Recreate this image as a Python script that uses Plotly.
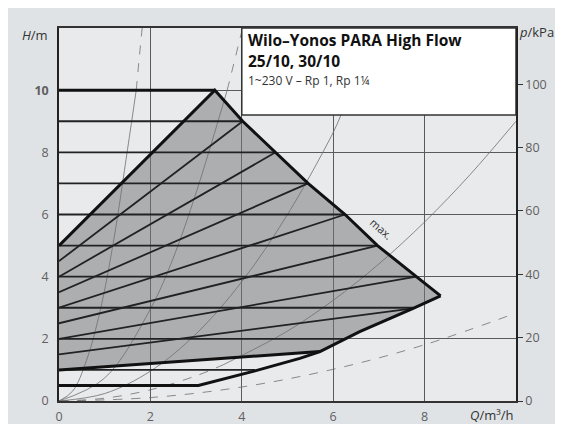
import plotly.graph_objects as go

# max. curve (outer boundary of the operating field)
q_max = [0, 3.41, 4.02, 4.74, 5.45, 6.26, 6.97, 7.82, 8.35]
h_max = [5.0, 10.0, 9.0, 8.0, 7.0, 6.0, 5.0, 4.0, 3.38]

# lower envelope (min. curve)
q_min = [0, 3.05, 4.29, 5.27, 5.71, 6.58, 7.75, 8.35]
h_min = [0.5, 0.5, 0.97, 1.37, 1.59, 2.23, 2.98, 3.38]

# thick lower Δp-v line
q_low = [0, 5.71]
h_low = [1.0, 1.59]

# Δp-c lines (constant head) and where they end on the boundary
dpc_h = [1, 2, 3, 4, 5, 6, 7, 8, 9]
dpc_q_end = [4.29, 6.27, 7.75, 7.82, 6.97, 6.26, 5.45, 4.74, 4.02]

# Δp-v lines: start head at Q=0, end point on the boundary
dpv_h0 = [1.5, 2.0, 2.5, 3.0, 3.5, 4.0, 4.5]
dpv_q_end = [7.75, 7.82, 6.97, 6.26, 5.45, 4.74, 4.02]
dpv_h_end = [2.98, 4.0, 5.0, 6.0, 7.0, 8.0, 9.0]

# system curves (thin)
sys_a_q = [0, 0.3, 0.6, 0.9, 1.2, 1.5, 1.69]
sys_a_h = [0, 0.32, 1.3, 2.9, 5.2, 8.1, 10.0]
sys_a_dq = [1.69, 1.76, 1.82]
sys_a_dh = [10.0, 11.1, 12.0]
sys_b_q = [0, 1.0, 2.0, 2.5, 3.0, 3.5, 3.68]
sys_b_h = [0, 0.74, 2.96, 4.6, 6.7, 9.1, 10.0]
sys_b_dq = [3.68, 3.85, 4.0]
sys_b_dh = [10.0, 11.0, 11.9]
sys_c_q = [0, 1.0, 2.0, 3.0, 4.0, 5.0, 6.0, 6.17]
sys_c_h = [0, 0.24, 0.96, 2.16, 3.84, 6.0, 8.64, 9.2]
sys_d_dq = [0, 1.0, 2.0, 3.0, 3.6]
sys_d_dh = [0, 0.09, 0.36, 0.81, 1.17]
sys_d_q = [3.6, 5.0, 6.0, 7.0, 8.0, 9.0, 10.0]
sys_d_h = [1.17, 2.25, 3.24, 4.41, 5.76, 7.29, 9.0]
sys_e_q = [0, 2.0, 4.0, 6.0, 8.0, 10.0]
sys_e_h = [0, 0.11, 0.45, 1.02, 1.81, 2.83]

x_ticks = [0, 2, 4, 6, 8]
y_ticks = [0, 2, 4, 6, 8, 10]
p_ticks = [0, 20, 40, 60, 80, 100]

FONT = "Open Sans"
DARK = "#222222"

fig = go.Figure()

# shaded operating field
poly_q = q_max + q_min[::-1][1:4] + [q_low[0]]
poly_h = h_max + h_min[::-1][1:4] + [h_low[0]]
fig.add_trace(go.Scatter(
    x=poly_q, y=poly_h, fill='toself', mode='lines',
    fillcolor='rgba(118,119,121,0.52)', line=dict(width=0),
    hoverinfo='skip'))

# system curves
thin = dict(color='#6e6e6e', width=0.8)
dash = dict(color='#6e6e6e', width=0.8, dash='dash')
for xs, ys, ln in [(sys_a_q, sys_a_h, thin), (sys_a_dq, sys_a_dh, dash),
                   (sys_b_q, sys_b_h, thin), (sys_b_dq, sys_b_dh, dash),
                   (sys_c_q, sys_c_h, thin),
                   (sys_d_dq, sys_d_dh, dash), (sys_d_q, sys_d_h, thin),
                   (sys_e_q, sys_e_h, dash)]:
    fig.add_trace(go.Scatter(x=xs, y=ys, mode='lines', line=ln,
                             line_shape='spline', hoverinfo='skip'))

# Δp-c lines
hx, hy = [], []
for h, qe in zip(dpc_h, dpc_q_end):
    hx += [0, qe, None]
    hy += [h, h, None]
fig.add_trace(go.Scatter(x=hx, y=hy, mode='lines',
                         line=dict(color=DARK, width=1.8), hoverinfo='skip'))

# Δp-v lines
vx, vy = [], []
for h0, qe, he in zip(dpv_h0, dpv_q_end, dpv_h_end):
    vx += [0, qe, None]
    vy += [h0, he, None]
fig.add_trace(go.Scatter(x=vx, y=vy, mode='lines',
                         line=dict(color=DARK, width=1.8), hoverinfo='skip'))

# thick boundary lines
thick = dict(color='#111111', width=3)
fig.add_trace(go.Scatter(x=q_max, y=h_max, mode='lines', line=thick, hoverinfo='skip'))
fig.add_trace(go.Scatter(x=q_min, y=h_min, mode='lines', line=thick, hoverinfo='skip'))
fig.add_trace(go.Scatter(x=q_low, y=h_low, mode='lines', line=thick, hoverinfo='skip'))
fig.add_trace(go.Scatter(x=[0, q_max[1]], y=[h_max[1], h_max[1]], mode='lines',
                         line=thick, hoverinfo='skip'))

# dummy trace for the kPa axis
fig.add_trace(go.Scatter(x=[0], y=[0], yaxis='y2', mode='markers',
                         marker=dict(opacity=0), hoverinfo='skip'))

# title box
fig.add_shape(type='rect', x0=4, x1=10, y0=9.2, y1=12, xref='x', yref='y',
              fillcolor='white', line=dict(color='#333333', width=1.5), layer='above')

ann = [
    dict(x=4.1, y=11.6, text='<b>Wilo–Yonos PARA High Flow</b>', size=15.5, color='#111111'),
    dict(x=4.1, y=10.93, text='<b>25/10, 30/10</b>', size=15.5, color='#111111'),
    dict(x=4.1, y=10.3, text='1~230 V – Rp 1, Rp 1¼', size=12, color='#333333'),
]
for a in ann:
    fig.add_annotation(x=a['x'], y=a['y'], text=a['text'], xref='x', yref='y',
                       xanchor='left', yanchor='middle', showarrow=False,
                       font=dict(family=FONT, size=a['size'], color=a['color']))

fig.add_annotation(x=7.05, y=5.55, text='max.', textangle=42, showarrow=False,
                   xref='x', yref='y', font=dict(family=FONT, size=11, color='#333333'))

fig.add_annotation(x=-0.02, y=0.981, xref='paper', yref='paper', text='<i>H</i>/m',
                   showarrow=False, xanchor='right', yanchor='middle',
                   font=dict(family=FONT, size=13, color='#333333'))
fig.add_annotation(x=1.003, y=0.99, xref='paper', yref='paper', text='<i>p</i>/kPa',
                   showarrow=False, xanchor='left', yanchor='middle',
                   font=dict(family=FONT, size=13, color='#333333'))
fig.add_annotation(x=0.997, y=-0.0375, xref='paper', yref='paper', text='<i>Q</i>/m³/h',
                   showarrow=False, xanchor='right', yanchor='middle',
                   font=dict(family=FONT, size=13, color='#333333'))

tickfont = dict(family=FONT, size=12.5, color='#5f5f5f')
# page body adds an 8px margin, so the figure is 8px smaller than the window
fig.update_layout(
    width=555, height=416,
    margin=dict(l=51, r=47, t=20, b=23, autoexpand=False),
    paper_bgcolor='#e0e3e6',
    plot_bgcolor='#e8eaec',
    showlegend=False,
    xaxis=dict(range=[0, 10], tickvals=x_ticks, showgrid=True, gridcolor='#5a5a5a',
               gridwidth=1.3, zeroline=False, showline=True, linecolor='#333333',
               linewidth=1.5, mirror=True, ticks='', tickfont=tickfont,
               ticklabelstandoff=3, automargin=False, fixedrange=True),
    yaxis=dict(range=[0, 12], tickvals=y_ticks,
               ticktext=[str(v) if v != 10 else '<b>10</b>' for v in y_ticks],
               showgrid=True, gridcolor='#5a5a5a', gridwidth=1.3, zeroline=False,
               showline=True, linecolor='#222222', linewidth=1.5, ticks='',
               tickfont=tickfont, ticklabelstandoff=6, automargin=False,
               fixedrange=True),
    yaxis2=dict(range=[0, 12 * 9.81], tickvals=p_ticks, overlaying='y', side='right',
                showgrid=False, zeroline=False, showline=True, linecolor='#222222',
                linewidth=1.5, ticks='outside', ticklen=5, tickcolor='#333333',
                tickfont=tickfont, automargin=False, fixedrange=True),
)

fig.write_html("out.html")
